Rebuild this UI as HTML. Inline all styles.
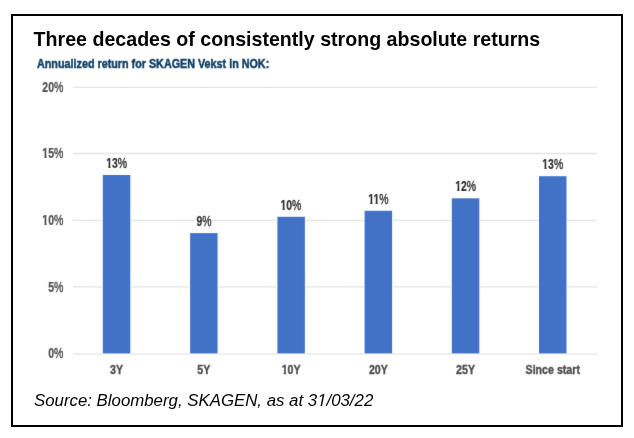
<!DOCTYPE html>
<html lang="en">
<head>
<meta charset="utf-8">
<title>Three decades of consistently strong absolute returns</title>
<style>
  html, body { margin: 0; padding: 0; background: #ffffff; }
  body { width: 634px; height: 438px; overflow: hidden; position: relative; }
  svg { display: block; position: absolute; left: 0; top: 0; }
  text { font-family: "Liberation Sans", sans-serif; }
  .title { font-size: 20.4px; font-weight: bold; fill: #000; }
  .sub { font-size: 13.5px; font-weight: bold; fill: #104068; stroke: #104068; stroke-width: 0.5px; stroke-linejoin: round; }
  .ax { font-size: 14.0px; font-weight: bold; fill: #4e4e4e; stroke: #4e4e4e; stroke-width: 0.2px; stroke-linejoin: round; }
  .val { font-size: 14.1px; font-weight: bold; fill: #303030; stroke: #303030; stroke-width: 0.2px; stroke-linejoin: round; }
  .xl { font-size: 13.4px; stroke-width: 0.4px; }
  .pc { font-weight: normal; stroke-width: 0.45px; }
  .src { font-size: 16.82px; font-style: italic; fill: #000; }
</style>
</head>
<body>
<svg width="634" height="438" viewBox="0 0 634 438">
  <defs>
    <filter id="soft" x="0" y="0" width="634" height="438" filterUnits="userSpaceOnUse"><feConvolveMatrix order="3" kernelMatrix="0.0072 0.0847 0.0072 0.0847 1.0000 0.0847 0.0072 0.0847 0.0072" edgeMode="duplicate" preserveAlpha="false"/></filter>
    <clipPath id="c-y1"><path d="M-31.00 -16.80 H6.00 V-2.40 H-31.00 Z M-25.23 -2.80 H-22.31 V4.20 H-25.23 Z M-19.95 -2.80 H3.00 V4.20 H-19.95 Z"/></clipPath>
    <clipPath id="c-y2"><path d="M-31.00 -16.80 H6.00 V-2.10 H-31.00 Z M-25.23 -2.50 H-22.31 V4.20 H-25.23 Z M-19.95 -2.50 H3.00 V4.20 H-19.95 Z"/></clipPath>
    <clipPath id="c-v0"><path d="M-17.10 -16.92 H20.10 V-1.85 H-17.10 Z M-11.31 -2.25 H-8.37 V4.23 H-11.31 Z M-5.99 -2.25 H17.10 V4.23 H-5.99 Z"/></clipPath>
    <clipPath id="c-v2"><path d="M-17.10 -16.92 H20.10 V-1.60 H-17.10 Z M-11.31 -2.00 H-8.37 V4.23 H-11.31 Z M-5.99 -2.00 H17.10 V4.23 H-5.99 Z"/></clipPath>
    <clipPath id="c-v3"><path d="M-16.72 -16.92 H19.72 V-1.65 H-16.72 Z M-10.93 -2.05 H-7.99 V4.23 H-10.93 Z M-3.89 -2.05 H-0.95 V4.23 H-3.89 Z M1.46 -2.05 H16.72 V4.23 H1.46 Z"/></clipPath>
    <clipPath id="c-v4"><path d="M-17.10 -16.92 H20.10 V-2.15 H-17.10 Z M-11.31 -2.55 H-8.37 V4.23 H-11.31 Z M-5.99 -2.55 H17.10 V4.23 H-5.99 Z"/></clipPath>
    <clipPath id="c-v5"><path d="M-17.10 -16.92 H20.10 V-2.05 H-17.10 Z M-11.31 -2.45 H-8.37 V4.23 H-11.31 Z M-5.99 -2.45 H17.10 V4.23 H-5.99 Z"/></clipPath>
    <clipPath id="c-x2"><path d="M-14.92 -16.08 H17.92 V-2.10 H-14.92 Z M-9.29 -2.50 H-6.45 V4.02 H-9.29 Z M-4.21 -2.50 H14.92 V4.02 H-4.21 Z"/></clipPath>
    <clipPath id="c-src"><path d="M-3.00 -20.18 H345.25 V-2.00 H-3.00 Z M286.40 0.60 L286.81 -2.40 L288.54 -2.40 L288.13 0.60 Z M-0.30 -2.40 H283.38 V5.89 H-0.30 Z M291.27 -2.40 H339.55 V5.89 H291.27 Z"/></clipPath>
  </defs>
  <rect x="0" y="0" width="634" height="438" fill="#ffffff"/>
  <rect x="12" y="15" width="610" height="411" fill="#ffffff" stroke="#000000" stroke-width="2"/>

  <text class="title" transform="translate(33.6,46.2) scale(0.9618,1)">Three decades of consistently strong absolute returns</text>
  <g filter="url(#soft)">
  <text class="sub" transform="translate(37,67.6) scale(0.799,1)">Annualized return for SKAGEN Vekst in NOK:</text>

  <g stroke="#e4e4e4" stroke-width="1.4" fill="none">
    <path d="M73.0 87.35 H597.0"/>
    <path d="M73.0 153.55 H597.0"/>
    <path d="M73.0 220.4 H102.0 M131.1 220.4 H195.2 M211.7 220.4 H276.6 M305.7 220.4 H363.8 M392.9 220.4 H451.0 M480.1 220.4 H538.2 M567.3 220.4 H597.0"/>
    <path d="M73.0 286.85 H102.0 M131.1 286.85 H189.3 M218.4 286.85 H276.6 M305.7 286.85 H363.8 M392.9 286.85 H451.0 M480.1 286.85 H538.2 M567.3 286.85 H597.0"/>
    <path d="M73.0 354.15 H102.4 M130.7 354.15 H189.7 M218.0 354.15 H277.0 M305.3 354.15 H364.2 M392.5 354.15 H451.4 M479.7 354.15 H538.6 M566.9 354.15 H597.0"/>
  </g>
  <g class="ax" text-anchor="end">
    <text id="y0" transform="translate(63.4,91.75) scale(0.753,1)">20<tspan class="pc">%</tspan></text>
    <text id="y1" transform="translate(63.4,158.40) scale(0.753,1)" clip-path="url(#c-y1)">15<tspan class="pc">%</tspan></text>
    <text id="y2" transform="translate(63.4,225.10) scale(0.753,1)" clip-path="url(#c-y2)">10<tspan class="pc">%</tspan></text>
    <text id="y3" transform="translate(63.4,292.05) scale(0.753,1)">5<tspan class="pc">%</tspan></text>
    <text id="y4" transform="translate(63.4,358.25) scale(0.753,1)">0<tspan class="pc">%</tspan></text>
  </g>
  <g fill="#4272c8">
    <rect x="102.8" y="175.0" width="27.5" height="178.5"/>
    <rect x="190.1" y="233.1" width="27.5" height="120.4"/>
    <rect x="277.4" y="216.8" width="27.5" height="136.7"/>
    <rect x="364.6" y="210.8" width="27.5" height="142.7"/>
    <rect x="451.8" y="198.3" width="27.5" height="155.2"/>
    <rect x="539.0" y="176.2" width="27.5" height="177.3"/>
  </g>
  <g class="val" text-anchor="middle">
    <text id="v0" transform="translate(116.65,167.85) scale(0.738,1)" clip-path="url(#c-v0)">13<tspan class="pc">%</tspan></text>
    <text id="v1" transform="translate(203.95,225.90) scale(0.738,1)">9<tspan class="pc">%</tspan></text>
    <text id="v2" transform="translate(290.95,209.60) scale(0.738,1)" clip-path="url(#c-v2)">10<tspan class="pc">%</tspan></text>
    <text id="v3" transform="translate(378.35,203.65) scale(0.738,1)" clip-path="url(#c-v3)">11<tspan class="pc">%</tspan></text>
    <text id="v4" transform="translate(465.55,191.15) scale(0.738,1)" clip-path="url(#c-v4)">12<tspan class="pc">%</tspan></text>
    <text id="v5" transform="translate(552.75,169.05) scale(0.738,1)" clip-path="url(#c-v5)">13<tspan class="pc">%</tspan></text>
  </g>
  <g class="ax xl" text-anchor="middle">
    <text id="x0" transform="translate(116.55,374.10) scale(0.795,1)">3Y</text>
    <text id="x1" transform="translate(203.85,374.10) scale(0.795,1)">5Y</text>
    <text id="x2" transform="translate(291.15,374.10) scale(0.795,1)" clip-path="url(#c-x2)">10Y</text>
    <text id="x3" transform="translate(378.35,374.10) scale(0.795,1)">20Y</text>
    <text id="x4" transform="translate(465.55,374.10) scale(0.795,1)">25Y</text>
    <text id="x5" transform="translate(552.75,374.10) scale(0.795,1)">Since start</text>
  </g>
  </g>

    <text id="src" class="src" transform="translate(34,406)" clip-path="url(#c-src)">Source: Bloomberg, SKAGEN, as at 31/03/22</text>
</svg>
</body>
</html>
